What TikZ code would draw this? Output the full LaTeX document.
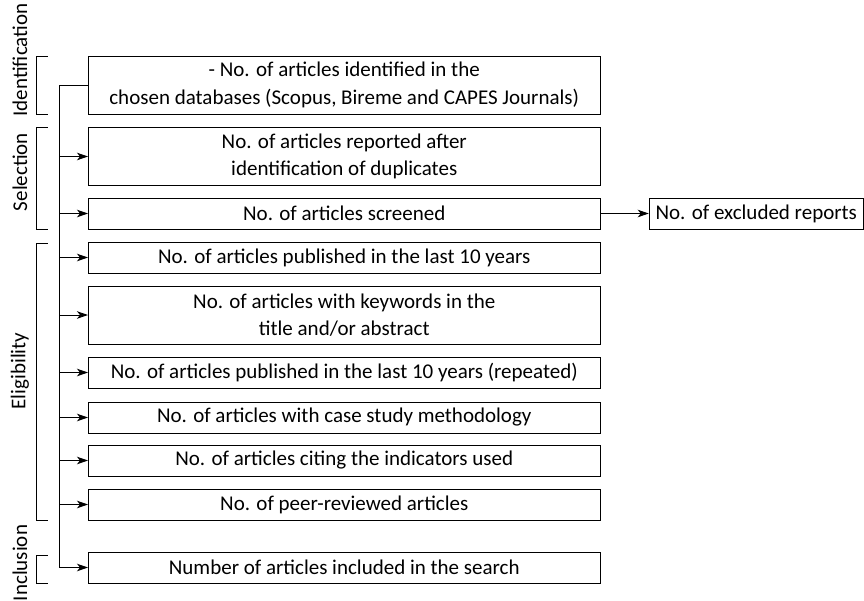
\documentclass[tikz,border=0pt]{standalone}
\usepackage{fontspec}
\setmainfont{Carlito}
\usetikzlibrary{arrows.meta}

\begin{document}
\begin{tikzpicture}[
            x=1pt, y=-1pt,
            line width=1pt,
            every node/.style={font=\fontsize{21}{27.5}\selectfont},
            widebox/.style={rectangle, draw=black, line width=1pt, minimum width=511.5pt, align=center, inner sep=2pt},
            onebox/.style={widebox, minimum height=31pt},
            twobox/.style={widebox, minimum height=58pt},
            phase/.style={rotate=90, font=\fontsize{21}{25}\selectfont},
            tip/.style={-{Stealth[length=11pt,width=7.5pt,inset=3pt]}}
          ]
          \useasboundingbox (0,0) rectangle (864,600);

          %Nodes
          \node[twobox] at (344.25,85) (B1) {- No. of articles identified in the\\chosen databases (Scopus, Bireme and CAPES Journals)};
          \node[twobox] at (344.25,156.5) (B2) {No. of articles reported after\\identification of duplicates};
          \node[onebox] at (344.25,213.5) (B3) {No. of articles screened};
          \node[onebox] at (344.25,257.5) (B4) {No. of articles published in the last 10 years};
          \node[twobox] at (344.25,315) (B5) {No. of articles with keywords in the\\title and/or abstract};
          \node[onebox] at (344.25,372.5) (B6) {No. of articles published in the last 10 years (repeated)};
          \node[onebox] at (344.25,417.5) (B7) {No. of articles with case study methodology};
          \node[onebox] at (344.25,460.5) (B8) {No. of articles citing the indicators used};
          \node[onebox] at (344.25,504.5) (B9) {No. of peer-reviewed articles};
          \node[onebox] at (344.25,567.5) (B10) {Number of articles included in the search};
          \node[rectangle, draw=black, minimum width=214pt, minimum height=31pt, inner sep=2pt] at (756.25,213.5) (EX) {No. of excluded reports};
          \coordinate (T) at (59.5,85);

          %Lines
          \draw[tip] (B1.west) -- (T) |- (B10.west);
          \draw[tip] (B2.west -| T) -- (B2.west);
          \draw[tip] (B3.west -| T) -- (B3.west);
          \draw[tip] (B4.west -| T) -- (B4.west);
          \draw[tip] (B5.west -| T) -- (B5.west);
          \draw[tip] (B6.west -| T) -- (B6.west);
          \draw[tip] (B7.west -| T) -- (B7.west);
          \draw[tip] (B8.west -| T) -- (B8.west);
          \draw[tip] (B9.west -| T) -- (B9.west);
          \draw[tip] (B3.east) -- (EX.west);

          %Brackets
          \draw (47.7,56) -- (36.7,56) -- (36.7,114) -- (47.7,114);
          \draw (47.7,127) -- (36.7,127) -- (36.7,229) -- (47.7,229);
          \draw (47.7,243) -- (36.7,243) -- (36.7,520) -- (47.7,520);
          \draw (47.7,555) -- (36.7,555) -- (36.7,583) -- (47.7,583);

          %Labels
          \node[phase] at (20,60) (L1) {Identification};
          \node[phase] at (20,172) (L2) {Selection};
          \node[phase] at (20,371) (L3) {Eligibility};
          \node[phase] at (20,563) (L4) {Inclusion};

        \end{tikzpicture}
\end{document}
